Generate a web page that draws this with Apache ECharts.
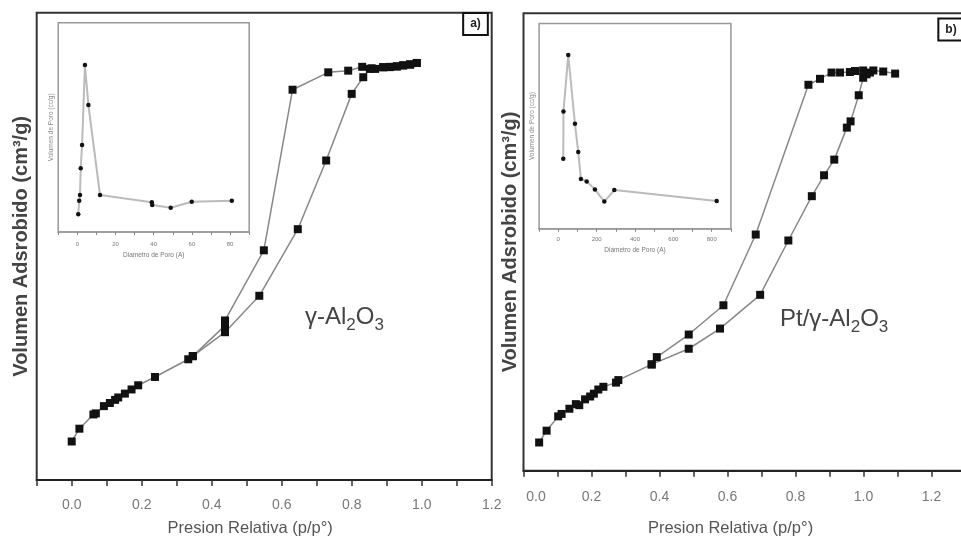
<!DOCTYPE html>
<html>
<head>
<meta charset="utf-8">
<script src="https://cdn.jsdelivr.net/npm/echarts@6/dist/echarts.min.js"></script>
<style>html,body{margin:0;padding:0;background:#fff}#c{width:961px;height:546px}</style>
</head>
<body>
<div id="c"></div>
<script>
// ---- Panel a) gamma-Al2O3 isotherm ----
const aAdsX = [0.0,0.022,0.062,0.069,0.092,0.109,0.124,0.133,0.152,0.171,0.19,0.238,0.333,0.346,0.438,0.536,0.646,0.727,0.8,0.833,0.852,0.867,0.89,0.909,0.929,0.947,0.967,0.986];
const aAdsY = [37,49.3,63,64,71,74,77,79.3,83,87,91,99,116,119,142,177,241,307,371,387,395,395,396.7,396.7,397.3,398.3,399,400.7];
const aDesX = [0.986,0.967,0.947,0.929,0.909,0.89,0.857,0.83,0.79,0.733,0.631,0.549,0.438,0.438,0.346];
const aDesY = [400.7,399.5,398.5,397.5,397,396.5,395.6,397,393.3,391.7,375,220.7,153.3,148.3,119];
// inset a) pore distribution
const aPoreX = [0.5,1.0,1.4,1.8,2.5,4.0,5.8,11.9,39,39.2,48.9,59.9,80.9];
const aPoreY = [17.7,31.3,37,63.7,87,167,127,37,29.7,27,24.3,30.3,31.3];

// ---- Panel b) Pt/gamma-Al2O3 isotherm ----
const bAdsX = [0.046,0.068,0.102,0.112,0.135,0.154,0.164,0.181,0.196,0.207,0.22,0.235,0.272,0.279,0.377,0.486,0.578,0.696,0.779,0.848,0.884,0.914,0.951,0.962,0.986,0.999,1.009,1.019];
const bAdsY = [27,38.3,52,54.3,59.3,63.7,62.7,68.3,71,73.7,77.7,80.3,84.3,86.7,101.7,116.7,136,168.3,220.3,262.7,282.7,297.7,328.3,334.3,359.3,376,379.3,381];
const bDesX = [1.093,1.058,1.029,0.999,0.975,0.96,0.931,0.906,0.872,0.838,0.683,0.588,0.486,0.392,0.377];
const bDesY = [380,382,383,383,382.5,381.5,381,381,375,369.3,226,158.3,130.3,108.7,101.7];
// inset b) pore distribution
const bPoreX = [26,27,52,87,104,118,148,191,240,292,826];
const bPoreY = [70.1,117.2,173.7,105,76.7,49.9,47.4,39.4,27.2,38.7,27.9];

// tick labels
const mainTicksA = ['0.0','0.2','0.4','0.6','0.8','1.0','1.2'];
const insetTicksA = ['0','20','40','60','80'];
const insetTicksB = ['0','200','400','600','800'];

const zip = (xs, ys) => xs.map((x, i) => [x, ys[i]]);
const FF = 'Liberation Sans, Arial, sans-serif';

function mainX(grid, min, max, margin, gap, firstShift) {
  return {
    type: 'value', gridIndex: grid, min: min, max: max, interval: 0.1,
    axisLine: { show: true, onZero: false, lineStyle: { color: '#222', width: 2 } },
    axisTick: { show: true, inside: false, length: 6, lineStyle: { color: '#333', width: 1.5 } },
    splitLine: { show: false },
    axisLabel: {
      margin: margin, fontSize: 14, color: '#777', fontFamily: FF,
      formatter: function (v) {
        const k = Math.round(v * 10);
        if (k < 0 || k % 2 !== 0) return '';
        const s = (k / 10).toFixed(1);
        if (mainTicksA.indexOf(s) < 0) return '';
        if (k === 0 && firstShift) return '{z|' + s + '}';
        return s;
      },
      rich: { z: { padding: [0, 0, 0, 25], fontSize: 14, color: '#777', fontFamily: FF } }
    },
    name: 'Presion Relativa (p/p°)', nameLocation: 'middle', nameGap: gap,
    nameTextStyle: { fontSize: 16.5, color: '#555', fontFamily: FF, padding: [0, 28, 0, 0] }
  };
}
function mainY(grid, max, gap) {
  return {
    type: 'value', gridIndex: grid, min: 0, max: max,
    axisLine: { show: false }, axisTick: { show: false }, axisLabel: { show: false }, splitLine: { show: false },
    name: 'Volumen Adsrobido (cm³/g)', nameLocation: 'middle', nameGap: gap, nameRotate: 90,
    nameTextStyle: { fontSize: 20, fontWeight: 'bold', color: '#444', fontFamily: FF }
  };
}
function insetX(grid, min, max, interval, ticks, margin, gap) {
  return {
    type: 'value', gridIndex: grid, min: min, max: max, interval: interval,
    axisLine: { show: true, onZero: false, lineStyle: { color: '#999', width: 1.5 } },
    axisTick: { show: true, inside: false, length: 3, lineStyle: { color: '#888', width: 1 } },
    splitLine: { show: false },
    axisLabel: {
      margin: margin, fontSize: 6, color: '#777', fontFamily: FF,
      formatter: function (v) { const s = String(Math.round(v)); return ticks.indexOf(s) >= 0 ? s : ''; }
    },
    name: 'Diametro de Poro (A)', nameLocation: 'middle', nameGap: gap,
    nameTextStyle: { fontSize: 6.5, color: '#777', fontFamily: FF }
  };
}
function insetY(grid, max) {
  return {
    type: 'value', gridIndex: grid, min: 0, max: max,
    axisLine: { show: false }, axisTick: { show: false }, axisLabel: { show: false }, splitLine: { show: false },
    name: 'Volumen de Poro (cc/g)', nameLocation: 'middle', nameGap: 3, nameRotate: 90,
    nameTextStyle: { fontSize: 6.5, color: '#888', fontFamily: FF }
  };
}
function iso(name, xi, yi, data) {
  return {
    name: name, type: 'line', xAxisIndex: xi, yAxisIndex: yi, data: data,
    symbol: 'rect', symbolSize: 8, showAllSymbol: true,
    itemStyle: { color: '#111' }, lineStyle: { color: '#888', width: 1.5 }, z: 3
  };
}
function pore(name, xi, yi, data) {
  return {
    name: name, type: 'line', xAxisIndex: xi, yAxisIndex: yi, data: data,
    symbol: 'circle', symbolSize: 4.5, showAllSymbol: true,
    itemStyle: { color: '#111' }, lineStyle: { color: '#bbb', width: 2 }, z: 3
  };
}
function formula(prefix, x, y) {
  return {
    type: 'text', x: x, y: y, z: 10,
    style: {
      text: '{n|' + prefix + 'γ-Al}{s|2}{n|O}{s|3}',
      align: 'left', verticalAlign: 'middle',
      rich: {
        n: { fontSize: 24, lineHeight: 26, verticalAlign: 'top', fill: '#444', fontFamily: FF },
        s: { fontSize: 17, lineHeight: 18, padding: [12, 0, 0, 0], verticalAlign: 'top', fill: '#444', fontFamily: FF }
      }
    }
  };
}
function tag(t, x, y) {
  return {
    type: 'text', x: x, y: y, z: 10,
    style: {
      text: t, align: 'center', verticalAlign: 'middle', fontSize: 12, fontWeight: 'bold', fill: '#222',
      fontFamily: FF, backgroundColor: '#fff', borderColor: '#111', borderWidth: 2, padding: [4, 6, 4, 6]
    }
  };
}

const chart = echarts.init(document.getElementById('c'), null, { renderer: 'canvas' });
chart.setOption({
  animation: false,
  backgroundColor: '#fff',
  grid: [
    { left: 36.7, right: 469.3, top: 12.7, bottom: 66, show: true, borderColor: '#333', borderWidth: 2, backgroundColor: '#fff', outerBoundsMode: 'none' },
    { left: 523.5, right: -4.5, top: 13.3, bottom: 75.3, show: true, borderColor: '#333', borderWidth: 2, backgroundColor: '#fff', outerBoundsMode: 'none' },
    { left: 58.2, width: 191, top: 22.7, height: 209.3, show: true, borderColor: '#999', borderWidth: 1.5, backgroundColor: '#fff', outerBoundsMode: 'none' },
    { left: 539.1, width: 191.8, top: 23.5, height: 205.3, show: true, borderColor: '#999', borderWidth: 1.5, backgroundColor: '#fff', outerBoundsMode: 'none' }
  ],
  xAxis: [
    mainX(0, -0.1, 1.2, 18, 40, false),
    mainX(1, 0, 1.3, 19, 49, true),
    insetX(2, -10, 90, 10, insetTicksA, 9, 20),
    insetX(3, -100, 900, 100, insetTicksB, 8, 18)
  ],
  yAxis: [
    mainY(0, 449, 5),
    mainY(1, 437.7, 3),
    insetY(2, 209.3),
    insetY(3, 205.3)
  ],
  series: [
    iso('a) adsorción', 0, 0, zip(aAdsX, aAdsY)),
    iso('a) desorción', 0, 0, zip(aDesX, aDesY)),
    iso('b) adsorción', 1, 1, zip(bAdsX, bAdsY)),
    iso('b) desorción', 1, 1, zip(bDesX, bDesY)),
    pore('a) poro', 2, 2, zip(aPoreX, aPoreY)),
    pore('b) poro', 3, 3, zip(bPoreX, bPoreY))
  ],
  graphic: [
    formula('', 305, 318),
    formula('Pt/', 780, 320),
    tag('a)', 475.5, 24),
    tag('b)', 951, 29.5)
  ]
});
</script>
</body>
</html>
